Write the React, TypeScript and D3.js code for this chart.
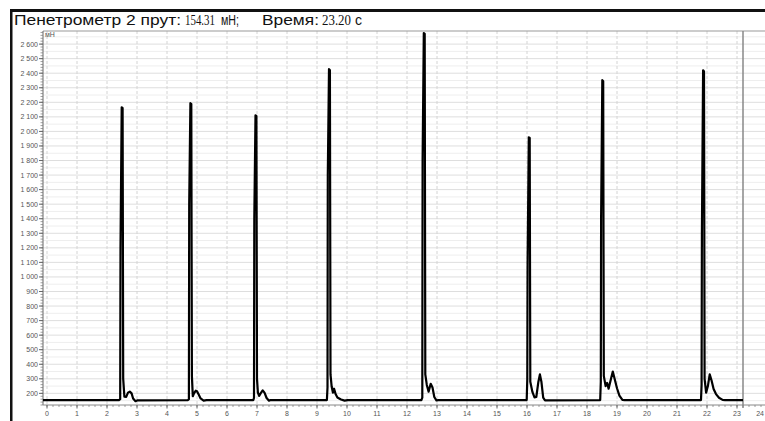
import React from 'react';
import * as d3 from 'd3';

// penetrometer trace, time in s, force in mN
const baseline = 154;
const impact1 = [[2.40,154],[2.44,160],[2.45,1200],[2.49,2166],[2.52,2160],[2.54,300],[2.58,178],[2.64,176],[2.70,205],[2.76,212],[2.82,200],[2.87,165],[2.95,146],[3.02,152]];
const impact2 = [[4.70,154],[4.73,160],[4.74,1500],[4.78,2194],[4.81,2188],[4.83,320],[4.86,180],[4.90,200],[4.96,218],[5.00,214],[5.06,190],[5.12,165],[5.22,150],[5.32,154]];
const impact3 = [[6.88,154],[6.90,170],[6.91,1400],[6.95,2111],[6.98,2105],[7.00,300],[7.03,205],[7.07,182],[7.12,200],[7.19,220],[7.25,205],[7.32,168],[7.40,150],[7.46,154]];
const impact4 = [[9.33,154],[9.35,240],[9.36,1700],[9.40,2428],[9.43,2420],[9.45,330],[9.49,245],[9.53,205],[9.57,232],[9.62,195],[9.68,172],[9.80,158],[9.92,150],[10.02,154]];
const impact5 = [[12.48,154],[12.51,170],[12.52,1800],[12.56,2676],[12.59,2670],[12.61,330],[12.66,258],[12.72,212],[12.79,266],[12.85,240],[12.91,175],[12.98,152],[13.05,154]];
const impact6 = [[15.99,154],[16.01,300],[16.02,1100],[16.06,1960],[16.09,1955],[16.11,280],[16.18,210],[16.25,172],[16.31,175],[16.38,280],[16.43,330],[16.48,280],[16.54,170],[16.60,152]];
const impact7 = [[18.44,154],[18.46,280],[18.47,1400],[18.51,2352],[18.54,2345],[18.56,320],[18.62,250],[18.67,272],[18.72,232],[18.80,300],[18.86,350],[18.92,300],[19.00,235],[19.08,185],[19.18,155],[19.25,154]];
const impact8 = [[21.80,154],[21.82,260],[21.83,1300],[21.87,2420],[21.90,2412],[21.92,300],[21.97,205],[22.03,250],[22.09,330],[22.15,290],[22.22,230],[22.30,195],[22.40,170],[22.52,155],[22.60,154]];
const cursorTime = 23.2;

const xTicks = d3.range(0, 25);
const yTicks = d3.range(200, 2700, 100);

const W = 765, H = 421;
const left = 43, top = 31, bottom = 405;

export default function App() {
  const x = d3.scaleLinear().domain([0, 24]).range([47, 767]);
  const y = d3.scaleLinear().domain([120, 2690]).range([bottom, top]);

  const trace = [[-0.15, baseline], ...impact1, ...impact2, ...impact3, ...impact4,
    ...impact5, ...impact6, ...impact7, ...impact8, [cursorTime, baseline]];
  const line = d3.line<number[]>().x(d => x(d[0])).y(d => y(d[1]));

  const fmt = (v: number) => v >= 1000 ? `${Math.floor(v / 1000)} ${String(v % 1000).padStart(3, '0')}` : String(v);
  const sans = 'Liberation Sans, Arial, sans-serif';
  const serif = 'Liberation Serif, Times New Roman, serif';
  const small = 'Arial, Liberation Sans, sans-serif';

  return (
    <svg width={W} height={H} style={{ position: 'absolute', left: 0, top: 0, background: '#fff' }}>
      <defs>
        <clipPath id="plot"><rect x={left} y={top} width={W - left} height={bottom - top + 2} /></clipPath>
      </defs>
      {/* window frame */}
      <rect x={10} y={9} width={W - 10} height={3} fill="#111" />
      <rect x={10} y={9} width={2.5} height={H - 9} fill="#111" />

      {/* title */}
      <g fontSize={14} fill="#111">
        <text x={14} y={25} fontFamily={sans} textLength={167} lengthAdjust="spacingAndGlyphs">Пенетрометр 2 прут:</text>
        <text x={185} y={25} fontFamily={serif} textLength={30} lengthAdjust="spacingAndGlyphs">154.31</text>
        <text x={221} y={25} fontFamily={sans} textLength={18} lengthAdjust="spacingAndGlyphs">мН;</text>
        <text x={262} y={25} fontFamily={sans} textLength={57} lengthAdjust="spacingAndGlyphs">Время:</text>
        <text x={322} y={25} fontFamily={serif} textLength={29} lengthAdjust="spacingAndGlyphs">23.20</text>
        <text x={355} y={25} fontFamily={sans}>с</text>
      </g>

      {/* grid */}
      <g clipPath="url(#plot)">
        {d3.range(150, 2700, 100).map(v => (
          <line key={'h5' + v} x1={left} x2={W} y1={y(v)} y2={y(v)} stroke="#eeeeee" />
        ))}
        {yTicks.map(v => (
          <line key={'h' + v} x1={left} x2={W} y1={y(v)} y2={y(v)} stroke="#dedede" />
        ))}
        {xTicks.map(t => (
          <line key={'v' + t} x1={x(t)} x2={x(t)} y1={top} y2={bottom} stroke="#d4d4d4" strokeDasharray="3,2" />
        ))}
      </g>

      {/* frame of plot */}
      <line x1={left} x2={W} y1={top} y2={top} stroke="#999" />
      <line x1={left} x2={left} y1={top} y2={bottom} stroke="#666" />
      <line x1={left} x2={W} y1={bottom} y2={bottom} stroke="#888" />

      {/* y axis ticks */}
      {d3.range(120, 2700, 20).map(v => (
        <line key={'ym' + v} x1={left - 2.5} x2={left} y1={y(v)} y2={y(v)} stroke="#777" strokeWidth={0.7} />
      ))}
      {yTicks.map(v => (
        <g key={'yl' + v}>
          <line x1={left - 4} x2={left} y1={y(v)} y2={y(v)} stroke="#666" />
          <text x={left - 5} y={y(v) + 2.5} fontSize={7} fontFamily={small} textAnchor="end" fill="#555">{fmt(v)}</text>
        </g>
      ))}
      <text x={left + 2} y={top + 6} fontSize={7} fontFamily={small} fill="#555">мН</text>

      {/* x axis ticks */}
      {d3.range(0, 24.01, 0.2).map(t => (
        <line key={'xm' + t} x1={x(t)} x2={x(t)} y1={bottom} y2={bottom + 2} stroke="#777" strokeWidth={0.7} />
      ))}
      {xTicks.map(t => (
        <g key={'xl' + t}>
          <line x1={x(t)} x2={x(t)} y1={bottom} y2={bottom + 3.5} stroke="#666" />
          <text x={t === 24 ? W - 1 : x(t)} y={bottom + 11} fontSize={7} fontFamily={small}
            textAnchor={t === 24 ? 'end' : 'middle'} fill="#555">{t}</text>
        </g>
      ))}

      {/* cursor */}
      <line x1={x(cursorTime)} x2={x(cursorTime)} y1={top} y2={bottom + 3} stroke="#888" strokeWidth={1.5} />

      {/* trace */}
      <path d={line(trace) || ''} fill="none" stroke="#000" strokeWidth={2.2} strokeLinejoin="round" clipPath="url(#plot)" />
    </svg>
  );
}
